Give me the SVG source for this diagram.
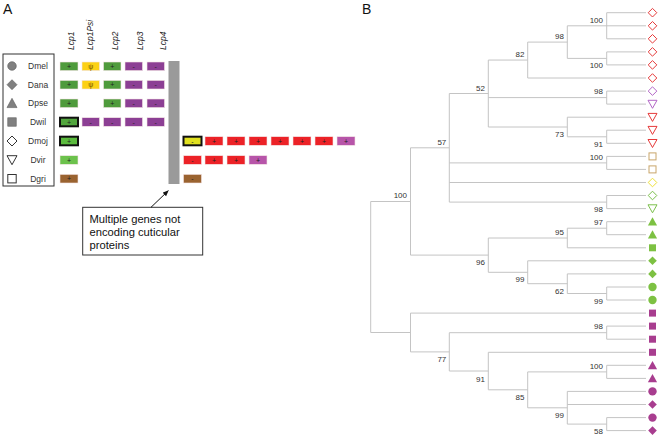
<svg xmlns="http://www.w3.org/2000/svg" xmlns:xlink="http://www.w3.org/1999/xlink" width="661" height="439" viewBox="0 0 661 439">
<style>
text{font-family:"Liberation Sans",Arial,sans-serif}
.pl{font-size:14px;fill:#111}
.hdr{font-size:8.5px;font-style:italic;fill:#222}
.lg{font-size:8.5px;fill:#333;text-anchor:middle}
.bx{stroke:#f4e4e4;stroke-width:0.6}
.bt{font-size:7px;fill:#222;text-anchor:middle}
.thick{stroke:#111;stroke-width:2}
.g1{fill:#4f9b3c}.g2{fill:#52a63e}.g3{fill:#5bbb3e}.g4{fill:#6cc24c}
.pu{fill:#8c3f94}.ye{fill:#fcd116}.rd{fill:#ec2227}.pk{fill:#b755a9}.br{fill:#9a6330}.y2{fill:#e0e020}
.tree{fill:none;stroke:#c4c4c4;stroke-width:1}
.bs{font-size:8px;fill:#333;text-anchor:end}
.lsym{fill:#808080;stroke:#5a5a5a;stroke-width:0.6}
.lsymo{fill:#fff;stroke:#333;stroke-width:1}
.o{fill:#fff;stroke-width:1}
</style>
<defs>
<path id="dia" d="M0,-4.3 L4.3,0 L0,4.3 L-4.3,0Z"/>
<path id="tdn" d="M-4.5,-3.8 L4.5,-3.8 L0,4.2Z"/>
<path id="tup" d="M0,-4.4 L4.6,3.9 L-4.6,3.9Z"/>
<rect id="sq" x="-3.5" y="-3.5" width="7" height="7"/>
<circle id="ci" r="4.2"/>
<path id="ldia" d="M0,-5 L5,0 L0,5 L-5,0Z"/>
<path id="ltdn" d="M-5,-4.3 L5,-4.3 L0,4.7Z"/>
<path id="ltup" d="M0,-5 L5,4.3 L-5,4.3Z"/>
<rect id="lsq" x="-4.2" y="-4.2" width="8.4" height="8.4"/>
<marker id="ah" viewBox="0 0 10 10" refX="9" refY="5" markerWidth="6" markerHeight="6" orient="auto"><path d="M0,1 L10,5 L0,9Z" fill="#111"/></marker>
</defs>

<text class="pl" x="3" y="14">A</text>
<text class="pl" x="362" y="14">B</text>

<g id="legend">
<rect x="3" y="54" width="51" height="132" fill="#fff" stroke="#333" stroke-width="1"/>
<circle class="lsym" cx="12" cy="66" r="4.3"/>
<use href="#ldia" class="lsym" x="12" y="84.7"/>
<use href="#ltup" class="lsym" x="12" y="103.3"/>
<use href="#lsq" class="lsym" x="12" y="122"/>
<use href="#ldia" class="lsymo" x="12" y="141"/>
<use href="#ltdn" class="lsymo" x="12" y="160"/>
<use href="#lsq" class="lsymo" x="12" y="178.7"/>
<text class="lg" x="38" y="69.3">Dmel</text>
<text class="lg" x="38" y="87.7">Dana</text>
<text class="lg" x="38" y="106.3">Dpse</text>
<text class="lg" x="38" y="125">Dwil</text>
<text class="lg" x="38" y="144">Dmoj</text>
<text class="lg" x="38" y="163">Dvir</text>
<text class="lg" x="38" y="181.7">Dgri</text>
</g>

<g id="headers">
<text class="hdr" transform="translate(74,50) rotate(-90)">Lcp1</text>
<text class="hdr" transform="translate(93,50) rotate(-90)">Lcp1Psi</text>
<text class="hdr" transform="translate(118,50) rotate(-90)">Lcp2</text>
<text class="hdr" transform="translate(142.5,50) rotate(-90)">Lcp3</text>
<text class="hdr" transform="translate(166,50) rotate(-90)">Lcp4</text>
</g>

<g id="genes">
<!-- Dmel -->
<rect class="bx g1" x="60" y="62" width="18" height="8.6"/><text class="bt" x="69" y="68.8">+</text>
<rect class="bx ye" x="82" y="62" width="17.5" height="8.6"/><text class="bt" x="90.7" y="68.8" style="fill:#6b4e00">ψ</text>
<rect class="bx g1" x="103.5" y="62" width="17.5" height="8.6"/><text class="bt" x="112.2" y="68.8">+</text>
<rect class="bx pu" x="125" y="62" width="17.5" height="8.6"/><text class="bt" x="133.7" y="68.8">-</text>
<rect class="bx pu" x="147" y="62" width="17.5" height="8.6"/><text class="bt" x="155.7" y="68.8">-</text>
<!-- Dana -->
<rect class="bx g1" x="60" y="80.4" width="18" height="8.6"/><text class="bt" x="69" y="87.2">+</text>
<rect class="bx ye" x="82" y="80.4" width="17.5" height="8.6"/><text class="bt" x="90.7" y="87.2" style="fill:#6b4e00">ψ</text>
<rect class="bx g1" x="103.5" y="80.4" width="17.5" height="8.6"/><text class="bt" x="112.2" y="87.2">+</text>
<rect class="bx pu" x="125" y="80.4" width="17.5" height="8.6"/><text class="bt" x="133.7" y="87.2">-</text>
<rect class="bx pu" x="147" y="80.4" width="17.5" height="8.6"/><text class="bt" x="155.7" y="87.2">-</text>
<!-- Dpse -->
<rect class="bx g1" x="60" y="99" width="18" height="8.6"/><text class="bt" x="69" y="105.8">+</text>
<rect class="bx g1" x="103.5" y="99" width="17.5" height="8.6"/><text class="bt" x="112.2" y="105.8">+</text>
<rect class="bx pu" x="125" y="99" width="17.5" height="8.6"/><text class="bt" x="133.7" y="105.8">-</text>
<rect class="bx pu" x="147" y="99" width="17.5" height="8.6"/><text class="bt" x="155.7" y="105.8">-</text>
<!-- Dwil -->
<rect class="thick g2" x="60" y="117.7" width="18" height="8.6"/><text class="bt" x="69" y="124.5">+</text>
<rect class="bx pu" x="82" y="117.7" width="17.5" height="8.6"/><text class="bt" x="90.7" y="124.5">-</text>
<rect class="bx pu" x="103.5" y="117.7" width="17.5" height="8.6"/><text class="bt" x="112.2" y="124.5">-</text>
<rect class="bx pu" x="125" y="117.7" width="17.5" height="8.6"/><text class="bt" x="133.7" y="124.5">-</text>
<rect class="bx pu" x="147" y="117.7" width="17.5" height="8.6"/><text class="bt" x="155.7" y="124.5">-</text>
<!-- Dmoj -->
<rect class="thick g3" x="60" y="136.7" width="18" height="8.6"/><text class="bt" x="69" y="143.5">+</text>
<rect class="thick y2" x="183.5" y="136.7" width="18" height="8.6"/><text class="bt" x="192.5" y="143.5">-</text>
<rect class="bx rd" x="205" y="136.7" width="18" height="8.6"/><text class="bt" x="214" y="143.5">+</text>
<rect class="bx rd" x="227" y="136.7" width="18" height="8.6"/><text class="bt" x="236" y="143.5">+</text>
<rect class="bx rd" x="249" y="136.7" width="18" height="8.6"/><text class="bt" x="258" y="143.5">+</text>
<rect class="bx rd" x="271" y="136.7" width="18" height="8.6"/><text class="bt" x="280" y="143.5">+</text>
<rect class="bx rd" x="293" y="136.7" width="18" height="8.6"/><text class="bt" x="302" y="143.5">+</text>
<rect class="bx rd" x="315" y="136.7" width="18" height="8.6"/><text class="bt" x="324" y="143.5">+</text>
<rect class="bx pk" x="337" y="136.7" width="18" height="8.6"/><text class="bt" x="346" y="143.5">+</text>
<!-- Dvir -->
<rect class="bx g4" x="60" y="155.7" width="18" height="8.6"/><text class="bt" x="69" y="162.5">+</text>
<rect class="bx rd" x="183.5" y="155.7" width="18" height="8.6"/><text class="bt" x="192.5" y="162.5">-</text>
<rect class="bx rd" x="205" y="155.7" width="18" height="8.6"/><text class="bt" x="214" y="162.5">+</text>
<rect class="bx rd" x="227" y="155.7" width="18" height="8.6"/><text class="bt" x="236" y="162.5">+</text>
<rect class="bx pk" x="249" y="155.7" width="18" height="8.6"/><text class="bt" x="258" y="162.5">+</text>
<!-- Dgri -->
<rect class="bx br" x="60" y="174.4" width="18" height="8.6"/><text class="bt" x="69" y="181.2">+</text>
<rect class="bx br" x="183.5" y="174.4" width="18" height="8.6"/><text class="bt" x="192.5" y="181.2">-</text>
<!-- grey bar -->
<rect x="168.5" y="61" width="11" height="123" fill="#9a9a9a"/>
</g>

<g id="note">
<rect x="82.7" y="207.3" width="120" height="47.7" fill="#fff" stroke="#333" stroke-width="1"/>
<text x="89.5" y="222.6" style="font-size:11.2px;fill:#111">Multiple genes not</text>
<text x="89.5" y="236" style="font-size:11.2px;fill:#111">encoding cuticular</text>
<text x="89.5" y="249.4" style="font-size:11.2px;fill:#111">proteins</text>
</g>
<g id="note-arrow">
<line x1="151" y1="207.3" x2="168.3" y2="190.7" stroke="#111" stroke-width="1" marker-end="url(#ah)"/>
</g>

<g id="connectors" class="tree">
<!-- A 100 -->
<path d="M606.7,12.7 V38.8 M606.7,12.7 H646 M606.7,25.8 H646 M606.7,38.8 H646"/>
<!-- B 100 -->
<path d="M606.7,51.9 V64.9 M606.7,51.9 H646 M606.7,64.9 H646"/>
<!-- C 98 -->
<path d="M567.3,25.8 V58.4 M567.3,25.8 H606.7 M567.3,58.4 H606.7"/>
<!-- D 82 -->
<path d="M527.7,42.1 V78 M527.7,42.1 H567.3 M527.7,78 H646"/>
<!-- E 98 -->
<path d="M606.7,91.1 V104.1 M606.7,91.1 H646 M606.7,104.1 H646"/>
<!-- F 91 -->
<path d="M606.7,130.2 V143.3 M606.7,130.2 H646 M606.7,143.3 H646"/>
<!-- G 73 -->
<path d="M567.3,117.2 V136.8 M567.3,117.2 H646 M567.3,136.8 H606.7"/>
<!-- H 52 -->
<path d="M488.3,60.05 V127 M488.3,60.05 H527.7 M488.3,97.6 H606.7 M488.3,127 H567.3"/>
<!-- I 100 -->
<path d="M606.7,156.4 V169.4 M606.7,156.4 H646 M606.7,169.4 H646"/>
<!-- J 98 -->
<path d="M606.7,195.5 V208.6 M606.7,195.5 H646 M606.7,208.6 H646"/>
<!-- K 57 -->
<path d="M449.3,93.5 V202.1 M449.3,93.5 H488.3 M449.3,162.9 H606.7 M449.3,182.5 H646 M449.3,202.1 H606.7"/>
<!-- L 97 -->
<path d="M606.7,221.7 V234.7 M606.7,221.7 H646 M606.7,234.7 H646"/>
<!-- M 95 -->
<path d="M567.3,228.2 V247.8 M567.3,228.2 H606.7 M567.3,247.8 H646"/>
<!-- N 99 -->
<path d="M606.7,287 V300 M606.7,287 H646 M606.7,300 H646"/>
<!-- O 62 -->
<path d="M567.3,273.9 V293.5 M567.3,273.9 H646 M567.3,293.5 H606.7"/>
<!-- P 99 -->
<path d="M527.7,260.8 V283.7 M527.7,260.8 H646 M527.7,283.7 H567.3"/>
<!-- Q 96 -->
<path d="M488.3,238 V272.3 M488.3,238 H567.3 M488.3,272.3 H527.7"/>
<!-- R 100 -->
<path d="M410.5,147.8 V255.1 M410.5,147.8 H449.3 M410.5,255.1 H488.3"/>
<!-- S 98 -->
<path d="M606.7,326.1 V339.2 M606.7,326.1 H646 M606.7,339.2 H646"/>
<!-- T 58 -->
<path d="M606.7,417.6 V430.6 M606.7,417.6 H646 M606.7,430.6 H646"/>
<!-- U 99 -->
<path d="M567.3,391.4 V424.1 M567.3,391.4 H646 M567.3,404.5 H646 M567.3,424.1 H606.7"/>
<!-- V 100 -->
<path d="M606.7,365.3 V378.4 M606.7,365.3 H646 M606.7,378.4 H646"/>
<!-- W 85 -->
<path d="M527.7,371.9 V407.8 M527.7,371.9 H606.7 M527.7,407.8 H567.3"/>
<!-- X 91 -->
<path d="M488.3,352.3 V389.8 M488.3,352.3 H646 M488.3,389.8 H527.7"/>
<!-- Y 77 -->
<path d="M449.3,332.7 V371 M449.3,332.7 H606.7 M449.3,371 H488.3"/>
<!-- Z -->
<path d="M410.5,313.1 V351.9 M410.5,313.1 H646 M410.5,351.9 H449.3"/>
<!-- root -->
<path d="M370.7,201.5 V332.5 M370.7,201.5 H410.5 M370.7,332.5 H410.5"/>
</g>

<g id="support">
<text class="bs" x="603" y="22.8">100</text>
<text class="bs" x="603" y="68.4">100</text>
<text class="bs" x="564" y="39.3">98</text>
<text class="bs" x="524.5" y="57">82</text>
<text class="bs" x="603" y="94.4">98</text>
<text class="bs" x="564" y="137.3">73</text>
<text class="bs" x="603" y="146.8">91</text>
<text class="bs" x="485" y="90.5">52</text>
<text class="bs" x="446.3" y="144.8">57</text>
<text class="bs" x="603" y="159.5">100</text>
<text class="bs" x="603" y="212.1">98</text>
<text class="bs" x="407" y="198">100</text>
<text class="bs" x="603" y="225">97</text>
<text class="bs" x="564" y="235">95</text>
<text class="bs" x="485" y="265.3">96</text>
<text class="bs" x="524.5" y="282.3">99</text>
<text class="bs" x="564" y="294">62</text>
<text class="bs" x="603" y="303.6">99</text>
<text class="bs" x="603" y="329.4">98</text>
<text class="bs" x="446.3" y="362">77</text>
<text class="bs" x="603" y="368.8">100</text>
<text class="bs" x="485" y="381.5">91</text>
<text class="bs" x="524.5" y="400">85</text>
<text class="bs" x="564" y="418.3">99</text>
<text class="bs" x="603" y="434.3">58</text>
</g>

<g id="leaves">
<use href="#dia" class="o" stroke="#e63a3a" x="652.5" y="12.7"/>
<use href="#dia" class="o" stroke="#e63a3a" x="652.5" y="25.8"/>
<use href="#dia" class="o" stroke="#e63a3a" x="652.5" y="38.8"/>
<use href="#dia" class="o" stroke="#e63a3a" x="652.5" y="51.9"/>
<use href="#dia" class="o" stroke="#e63a3a" x="652.5" y="64.9"/>
<use href="#dia" class="o" stroke="#e63a3a" x="652.5" y="78"/>
<use href="#dia" class="o" stroke="#b366c7" x="652.5" y="91.1"/>
<use href="#tdn" class="o" stroke="#b366c7" x="652.5" y="104.1"/>
<use href="#tdn" class="o" stroke="#e63a3a" x="652.5" y="117.2"/>
<use href="#tdn" class="o" stroke="#e63a3a" x="652.5" y="130.2"/>
<use href="#tdn" class="o" stroke="#e63a3a" x="652.5" y="143.3"/>
<use href="#sq" class="o" stroke="#c9a66b" x="652.5" y="156.4"/>
<use href="#sq" class="o" stroke="#c9a66b" x="652.5" y="169.4"/>
<use href="#dia" class="o" stroke="#eee03a" x="652.5" y="182.5"/>
<use href="#dia" class="o" stroke="#7cc04c" x="652.5" y="195.5"/>
<use href="#tdn" class="o" stroke="#7cc04c" x="652.5" y="208.6"/>
<use href="#tup" fill="#7dc142" x="652.5" y="221.7"/>
<use href="#tup" fill="#7dc142" x="652.5" y="234.7"/>
<use href="#sq" fill="#7dc142" x="652.5" y="247.8"/>
<use href="#dia" fill="#7dc142" x="652.5" y="260.8"/>
<use href="#dia" fill="#7dc142" x="652.5" y="273.9"/>
<use href="#ci" fill="#7dc142" x="652.5" y="287"/>
<use href="#ci" fill="#7dc142" x="652.5" y="300"/>
<use href="#sq" fill="#a83d8f" x="652.5" y="313.1"/>
<use href="#sq" fill="#a83d8f" x="652.5" y="326.1"/>
<use href="#sq" fill="#a83d8f" x="652.5" y="339.2"/>
<use href="#sq" fill="#a83d8f" x="652.5" y="352.3"/>
<use href="#tup" fill="#a83d8f" x="652.5" y="365.3"/>
<use href="#tup" fill="#a83d8f" x="652.5" y="378.4"/>
<use href="#ci" fill="#a83d8f" x="652.5" y="391.4"/>
<use href="#dia" fill="#a83d8f" x="652.5" y="404.5"/>
<use href="#ci" fill="#a83d8f" x="652.5" y="417.6"/>
<use href="#dia" fill="#a83d8f" x="652.5" y="430.6"/>
</g>
</svg>
